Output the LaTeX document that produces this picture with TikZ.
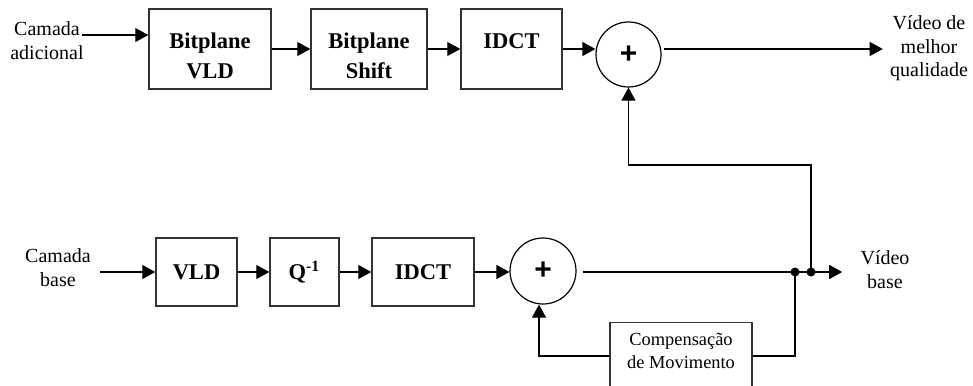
\documentclass[tikz,border=0pt]{standalone}
\usepackage{fontspec}
\setmainfont{Liberation Serif}
\newfontfamily\plusfont{Liberation Sans}
\usetikzlibrary{arrows.meta}
\tikzset{
  blockbox/.style={draw=black!80, line width=0.7pt, inner sep=0pt,
    font=\fontsize{11.25}{15}\selectfont\bfseries, align=center},
  boxtext/.style={inner sep=0pt, align=center,
    font=\fontsize{11.25}{15}\selectfont\bfseries},
  sumnode/.style={draw, circle, line width=0.6pt, inner sep=0pt,
    minimum size=#1, font=\plusfont\fontsize{15}{15}\selectfont\bfseries},
  lbl/.style={align=center, inner sep=0pt, font=\fontsize{10}{12}\selectfont},
  flow/.style={line width=0.6pt, -{Triangle[length=6.5pt,width=7pt]}},
  wire/.style={line width=0.6pt},
  junction/.style={circle, fill, inner sep=0pt, minimum size=4.5pt},
}
\begin{document}
\begin{tikzpicture}[x=0.5pt,y=-0.5pt]
\useasboundingbox (0,0) rectangle (973,385);
\clip (0,0) rectangle (973,385);

% enhancement layer
\node[lbl] (inadd) at (47,40.5) {Camada\\adicional};
\coordinate (ina) at (82,35);
\node[blockbox, minimum width=61pt, minimum height=40pt] (bvld) at (210,49) {};
\node[boxtext] (bvldtext) at ([yshift=-3.25pt]bvld.center) {Bitplane\\VLD};
\node[blockbox, minimum width=58pt, minimum height=40pt] (bshift) at (369,49) {};
\node[boxtext] (bshifttext) at ([yshift=-3.25pt]bshift.center) {Bitplane\\Shift};
\node[blockbox, minimum width=50.5pt, minimum height=40pt] (idcta) at (511.5,49) {};
\node[boxtext] (idctatext) at ([yshift=3.75pt]idcta.center) {IDCT};
\node[sumnode=32.5pt] (suma) at (628.5,54.5) {\raisebox{-2pt}{+}};
\node[lbl, font=\fontsize{10}{11.75}\selectfont] (vidtop) at (929,48.5) {Vídeo de\\melhor\\qualidade};

\draw[flow] (ina) -- (ina -| bvld.west);
\draw[flow] (bvld.east) -- (bshift.west);
\draw[flow] (bshift.east) -- (idcta.west);
\draw[flow] (idcta.east) -- (idcta.east -| suma.west);
\draw[flow] ([xshift=1pt]suma.east |- idcta.east) -- ([xshift=-3.5pt]vidtop.west |- idcta.east);

% base layer
\node[lbl] (inbase) at (58,268) {Camada\\base};
\node[blockbox, minimum width=40.5pt, minimum height=34pt] (vldb) at (196.5,272) {VLD};
\node[blockbox, minimum width=34.5pt, minimum height=34pt] (iq) at (304.5,272) {Q\textsuperscript{-1}};
\node[blockbox, minimum width=51pt, minimum height=34pt] (idctb) at (423,272) {IDCT};
\node[sumnode=33pt] (sumb) at (543,271) {\raisebox{-1pt}{+}};
\node[lbl] (vidbase) at (885,270) {Vídeo\\base};
\node[junction] (dot1) at (795,272) {};
\node[junction] (dot2) at (811,272) {};
\node[blockbox, minimum width=71pt, minimum height=40pt, anchor=north] (comp) at (681,322) {};
\node[lbl, font=\fontsize{9.2}{11.5}\selectfont] (comptext) at (681,350.5) {Compensação\\de Movimento};
\coordinate (up) at (628.5,165);

\draw[flow] ([xshift=4.5pt]inbase.east |- vldb.west) -- (vldb.west);
\draw[flow] (vldb.east) -- (iq.west);
\draw[flow] (iq.east) -- (idctb.west);
\draw[flow] (idctb.east) -- (idctb.east -| sumb.west);
\draw[flow] ([xshift=3pt]sumb.east |- vldb.east) -- ([xshift=-9pt]vidbase.west |- vldb.east);

% feedback paths
\draw[flow] (dot2.center) |- (up) -- (suma.south);
\draw[wire] (dot1.center) |- ([yshift=-17pt]comp.north east);
\draw[flow] ([yshift=-17pt]comp.north west) -| ([xshift=-2pt]sumb.south);
\end{tikzpicture}
\end{document}
